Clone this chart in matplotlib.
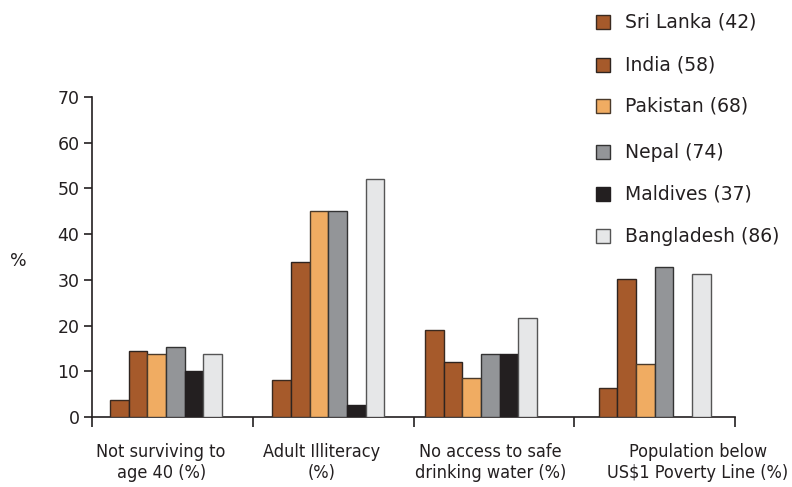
import numpy as np
import matplotlib
matplotlib.use("Agg")
import matplotlib.pyplot as plt
from matplotlib.patches import Rectangle

# Indicators and country values (%)
categories = [
    "Not surviving to\nage 40 (%)",
    "Adult Illiteracy\n(%)",
    "No access to safe\ndrinking water (%)",
    "Population below\nUS$1 Poverty Line (%)",
]
countries = ["Sri Lanka (42)", "India (58)", "Pakistan (68)",
             "Nepal (74)", "Maldives (37)", "Bangladesh (86)"]

sri_lanka = [3.8, 8.2, 19.0, 6.4]
india = [14.4, 34.0, 12.1, 30.2]
pakistan = [13.8, 45.0, 8.6, 11.6]
nepal = [15.4, 45.0, 13.8, 32.9]
maldives = [10.0, 2.7, 13.8, np.nan]
bangladesh = [13.8, 52.0, 21.7, 31.3]

series = [sri_lanka, india, pakistan, nepal, maldives, bangladesh]
colors = ["#A65A2B", "#A65A2B", "#F0AC62", "#939598", "#231F20", "#E6E7E8"]
edges = ["#3a2a20", "#2e2420", "#4a3a2a", "#333333", "#231F20", "#555555"]

yticks = [0, 10, 20, 30, 40, 50, 60, 70]

# layout
group_centers = [0.46, 1.47, 2.42, 3.50]
label_x = [0.43, 1.43, 2.48, 3.77]
bar_w = 0.1163

fig = plt.figure(figsize=(7.92, 4.87), dpi=100)
ax = fig.add_axes([92 / 792, 1 - 417 / 487, (735 - 92) / 792, 320 / 487])

n = len(series)
for i, (vals, c, ec) in enumerate(zip(series, colors, edges)):
    x = np.array(group_centers) + (i - (n - 1) / 2) * bar_w
    ax.bar(x, vals, width=bar_w, color=c, edgecolor=ec, linewidth=1.0, zorder=3)

ax.set_xlim(0, 4)
ax.set_ylim(0, 70)
ax.set_yticks(yticks)
ax.set_yticklabels([str(v) for v in yticks], fontsize=12.5, color="#231F20")
ax.set_xticks([0, 1, 2, 3, 4])
ax.set_xticklabels([])
ax.tick_params(axis="y", direction="out", length=6, width=1.2, color="#231F20", pad=3)
ax.tick_params(axis="x", direction="out", length=7, width=1.2, color="#231F20")
for s in ["top", "right"]:
    ax.spines[s].set_visible(False)
for s in ["left", "bottom"]:
    ax.spines[s].set_linewidth(1.2)
    ax.spines[s].set_color("#231F20")

for xc, lab in zip(label_x, categories):
    ax.text(xc, -0.08, lab, transform=ax.get_xaxis_transform(), ha="center", va="top",
            fontsize=13, family="DejaVu Sans", fontstretch="condensed",
            color="#231F20", linespacing=1.22)

fig.text(18 / 792, 1 - 261 / 487, "%", ha="center", va="center", fontsize=12.5,
         color="#231F20")

# legend drawn as squares with labels
row_y = [22, 65, 105.5, 152, 194, 236]
sq = 14
for lab, c, ec, yy in zip(countries, colors, edges, row_y):
    fig.patches.append(Rectangle((596 / 792, 1 - (yy + sq / 2) / 487), sq / 792, sq / 487,
                                 transform=fig.transFigure, facecolor=c, edgecolor=ec,
                                 linewidth=1.0))
    fig.text(625 / 792, 1 - yy / 487, lab, ha="left", va="center", fontsize=13.5,
             color="#231F20")

fig.savefig("out.png", dpi=100)
